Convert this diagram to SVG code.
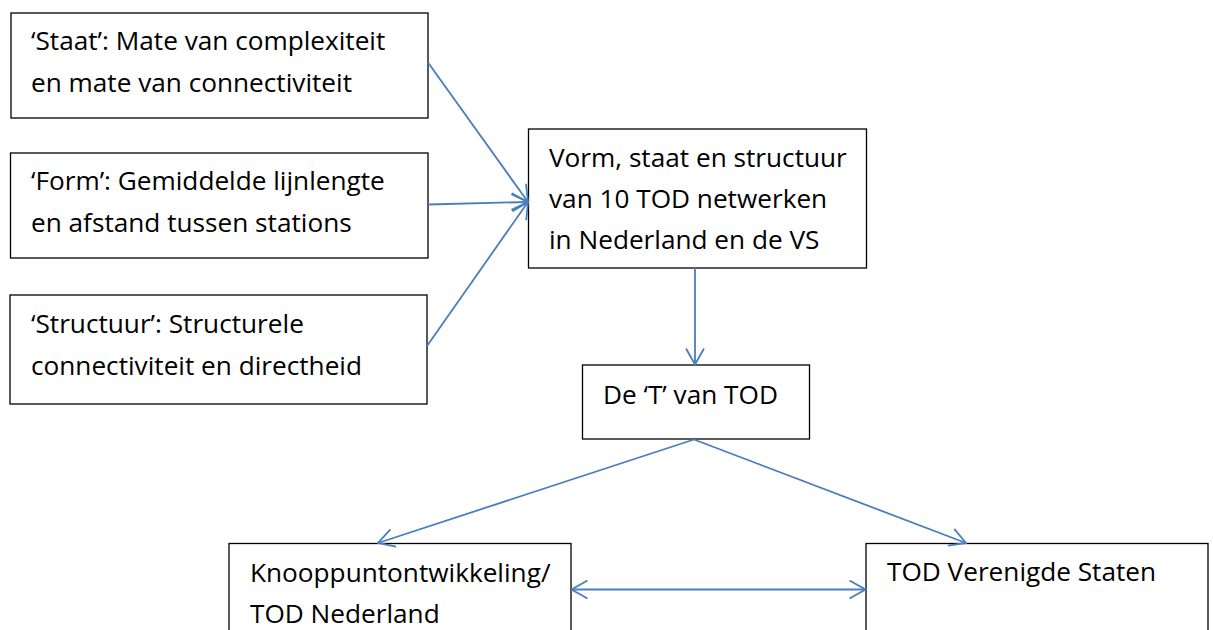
<svg xmlns="http://www.w3.org/2000/svg" width="1213" height="630" viewBox="0 0 1213 630">
  <style>
    .box { fill: #ffffff; stroke: #000000; stroke-width: 1.3; }
    .label { font-family: "Open Sans", Lato, "Liberation Sans", sans-serif; font-size: 26.2px; fill: #000000; font-variant-ligatures: none; }
    .edge { fill: none; stroke: #4a7ebb; stroke-width: 1.8; }
  </style>
  <defs>
    <marker id="head" viewBox="0 0 18 20" refX="17" refY="10" markerWidth="18" markerHeight="20" markerUnits="userSpaceOnUse" orient="auto-start-reverse">
      <path d="M1,1 L17,10 L1,19" fill="none" stroke="#4a7ebb" stroke-width="1.8"/>
    </marker>
  </defs>
  <rect width="1213" height="630" fill="#ffffff"/>

  <g id="staat">
    <rect class="box" x="11" y="13" width="417" height="105"/>
    <text class="label" x="31" y="50">‘Staat’: Mate van complexiteit</text>
    <text class="label" x="31" y="92">en mate van connectiviteit</text>
  </g>

  <g id="form">
    <rect class="box" x="10.5" y="153" width="417.5" height="105"/>
    <text class="label" x="31" y="190">‘Form’: Gemiddelde lijnlengte</text>
    <text class="label" x="31" y="232">en afstand tussen stations</text>
  </g>

  <g id="structuur">
    <rect class="box" x="10" y="295" width="417" height="109"/>
    <text class="label" x="31" y="333">‘Structuur’: Structurele</text>
    <text class="label" x="31" y="375">connectiviteit en directheid</text>
  </g>

  <g id="netwerken">
    <rect class="box" x="528.5" y="129" width="338" height="139"/>
    <text class="label" x="549" y="167">Vorm, staat en structuur</text>
    <text class="label" x="549" y="208">van 10 TOD netwerken</text>
    <text class="label" x="549" y="249">in Nederland en de VS</text>
  </g>

  <g id="t-van-tod">
    <rect class="box" x="582.5" y="365" width="227" height="74"/>
    <text class="label" x="603" y="404">De ‘T’ van TOD</text>
  </g>

  <g id="nederland">
    <rect class="box" x="229" y="543.5" width="342" height="100"/>
    <text class="label" x="250" y="582">Knooppuntontwikkeling/</text>
    <text class="label" x="250" y="623">TOD Nederland</text>
  </g>

  <g id="verenigde-staten">
    <rect class="box" x="866" y="543.5" width="342" height="100"/>
    <text class="label" x="887" y="581">TOD Verenigde Staten</text>
  </g>

  <g id="connectors">
    <line class="edge" x1="428" y1="62.5" x2="528" y2="202" marker-end="url(#head)"/>
    <line class="edge" x1="428" y1="204.5" x2="528" y2="202" marker-end="url(#head)"/>
    <line class="edge" x1="427" y1="346" x2="528" y2="202" marker-end="url(#head)"/>
    <line class="edge" x1="695" y1="268" x2="695" y2="364.5" marker-end="url(#head)"/>
    <line class="edge" x1="694" y1="439.5" x2="378" y2="543" marker-end="url(#head)"/>
    <line class="edge" x1="694" y1="439.5" x2="966" y2="543" marker-end="url(#head)"/>
    <line class="edge" x1="571.5" y1="589.5" x2="865.5" y2="589.5" marker-start="url(#head)" marker-end="url(#head)"/>
  </g>
</svg>
